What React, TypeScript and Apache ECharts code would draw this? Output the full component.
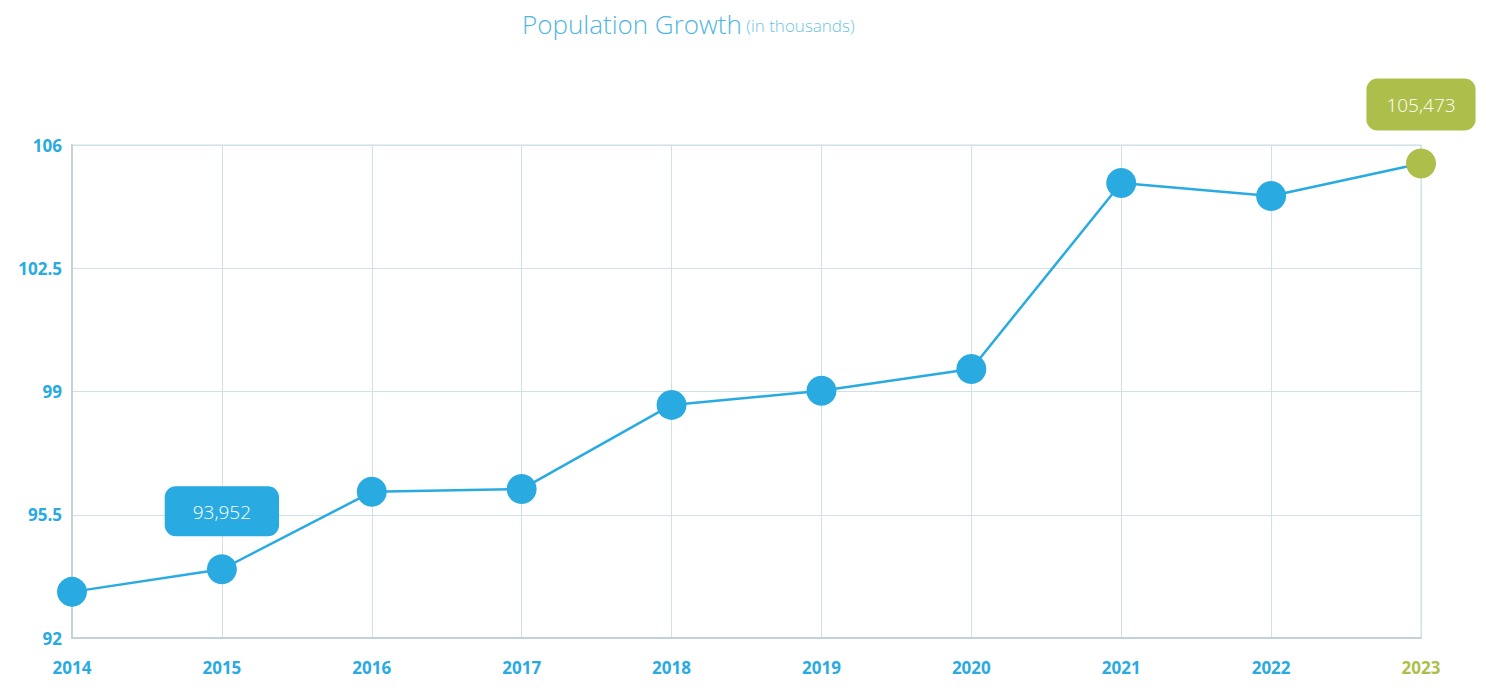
import React, { useEffect, useRef } from "react";
import * as echarts from "echarts";

const years = ["2014", "2015", "2016", "2017", "2018", "2019", "2020", "2021", "2022", "2023"];
const population = [93.31, 93.952, 96.15, 96.23, 98.62, 99.02, 99.64, 104.92, 104.55, 105.473];
const yTicks = [92, 95.5, 99, 102.5, 106];
const labelledYears = ["2015", "2023"];

const BLUE = "#29abe2";
const GREEN = "#adbf4a";

export default function App() {
  const ref = useRef<HTMLDivElement>(null);
  useEffect(() => {
    document.body.style.margin = "0";
    const chart = echarts.init(ref.current!, null, { renderer: "svg" });
    const last = years.length - 1;
    const data = population.map((v, i) => {
      const isLast = i === last;
      const color = isLast ? GREEN : BLUE;
      const item: any = { value: v, itemStyle: { color } };
      if (labelledYears.includes(years[i])) {
        item.label = {
          show: true,
          position: "top",
          distance: 18,
          formatter: () => v.toFixed(3).replace(".", ","),
          color: "#ffffff",
          fontFamily: "'Open Sans', Lato, sans-serif",
          fontSize: 19,
          fontWeight: 300,
          backgroundColor: color,
          borderRadius: 11,
          padding: isLast ? [17, 20, 16, 20] : [16, 28, 15, 28],
        };
      }
      return item;
    });
    chart.setOption({
      animation: false,
      backgroundColor: "#ffffff",
      title: {
        text: "{a|Population Growth}{b| (in thousands)}",
        left: 517,
        top: -2,
        textStyle: {
          rich: {
            a: { fontFamily: "'Open Sans', Lato, sans-serif", fontSize: 26, color: "#4fb6df", fontWeight: 300, lineHeight: 34, verticalAlign: "bottom" },
            b: { fontFamily: "'Open Sans', Lato, sans-serif", fontSize: 17, color: "#6fc2e3", fontWeight: 300, lineHeight: 34, verticalAlign: "bottom", padding: [0, 0, 3, 0] },
          },
        },
      },
      grid: { left: 72, right: 65, top: 145, bottom: 55, show: true, borderColor: "#c8dfe6", borderWidth: 1 },
      xAxis: {
        type: "category",
        data: years,
        boundaryGap: false,
        axisLine: { show: true, lineStyle: { color: "#c2d2d8", width: 2 } },
        axisTick: { show: false },
        splitLine: { show: true, lineStyle: { color: "#cfe2e8", width: 1 } },
        axisLabel: {
          margin: 21,
          fontFamily: "'Open Sans', Lato, sans-serif",
          fontWeight: "bold",
          fontSize: 17,
          color: (val: string) => (val === years[last] ? GREEN : BLUE),
        },
      },
      yAxis: {
        type: "value",
        min: yTicks[0],
        max: yTicks[yTicks.length - 1],
        interval: yTicks[1] - yTicks[0],
        axisLine: { show: true, lineStyle: { color: "#c2d2d8", width: 2 } },
        axisTick: { show: false },
        splitLine: { show: true, lineStyle: { color: "#cfe2e8", width: 1 } },
        axisLabel: {
          margin: 10,
          fontFamily: "'Open Sans', Lato, sans-serif",
          fontWeight: "bold",
          fontSize: 17,
          color: BLUE,
        },
      },
      series: [
        {
          type: "line",
          data,
          symbol: "circle",
          symbolSize: 30,
          lineStyle: { color: BLUE, width: 2.5 },
          itemStyle: { color: BLUE },
        },
      ],
    });
    return () => chart.dispose();
  }, []);
  return <div ref={ref} style={{ width: 1486, height: 693 }} />;
}
